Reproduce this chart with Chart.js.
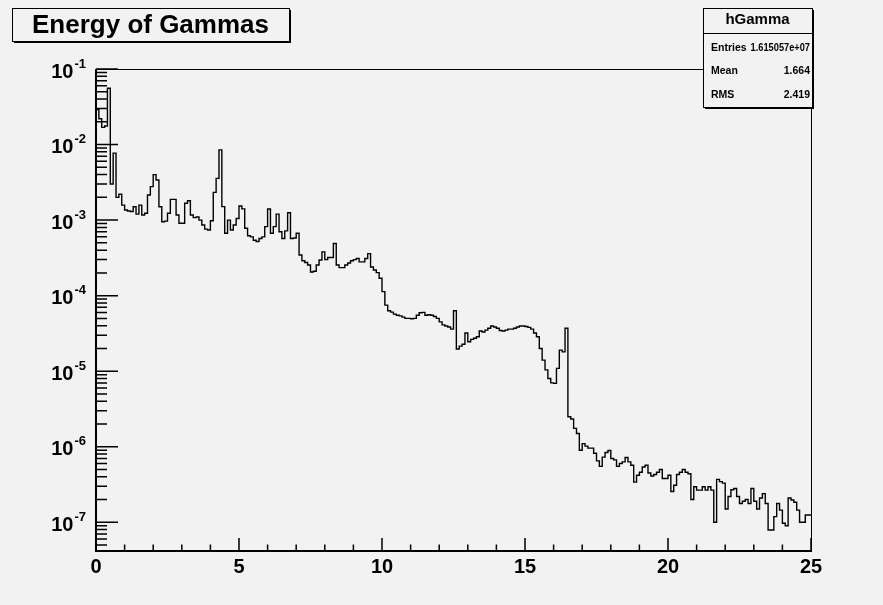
<!DOCTYPE html>
<html>
<head>
<meta charset="utf-8">
<script src="https://cdn.jsdelivr.net/npm/chart.js@4.4.1/dist/chart.umd.min.js"></script>
<style>
  html, body { margin: 0; padding: 0; background: #f2f2f2; }
  canvas { display: block; }
</style>
</head>
<body>
<div style="width:883px;height:605px;position:relative">
  <canvas id="c" width="883" height="605"></canvas>
</div>
<script>
// Histogram hGamma: 250 bins of 0.1 over [0, 25]
const X_MIN = 0, X_MAX = 25, BIN_WIDTH = 0.1;
const Y_MIN = 4.17e-8, Y_MAX = 0.1;

// bin contents, 0 - 5
const bins0to5 = [
  0.041, 0.029, 0.022, 0.0169, 0.0176, 0.0556, 0.0030, 0.0077, 0.0020, 0.0022,
  0.00158, 0.00136, 0.00132, 0.0013, 0.0015, 0.0012, 0.00158, 0.00117, 0.00123, 0.00215,
  0.00277, 0.0040, 0.0034, 0.0015, 0.00095, 0.00097, 0.00123, 0.00188, 0.00188, 0.00117,
  0.00091, 0.00091, 0.00167, 0.0018, 0.00117, 0.00108, 0.0011, 0.0010, 0.00086, 0.00076,
  0.00074, 0.00098, 0.00233, 0.00357, 0.0085, 0.00151, 0.00067, 0.0010, 0.00074, 0.00086
];
// bin contents, 5 - 10
const bins5to10 = [
  0.00105, 0.00154, 0.00141, 0.00078, 0.00062, 0.0006, 0.00054, 0.00052, 0.00057, 0.0006,
  0.00082, 0.0014, 0.00067, 0.00082, 0.0012, 0.0007, 0.00057, 0.00072, 0.00125, 0.00057,
  0.00058, 0.00067, 0.000345, 0.00029, 0.000275, 0.000255, 0.000206, 0.00021, 0.000255, 0.000296,
  0.00038, 0.0003, 0.00032, 0.00032, 0.00049, 0.000255, 0.000235, 0.000235, 0.000255, 0.00027,
  0.00029, 0.0003, 0.00031, 0.00028, 0.00028, 0.00031, 0.00036, 0.00024, 0.000219, 0.000202
];
// bin contents, 10 - 15
const bins10to15 = [
  0.00017, 0.000113, 7.5e-5, 6.3e-5, 6.05e-5, 5.7e-5, 5.5e-5, 5.4e-5, 5.2e-5, 5.0e-5,
  5.0e-5, 4.95e-5, 5.0e-5, 5.5e-5, 5.95e-5, 6.0e-5, 5.5e-5, 5.6e-5, 5.5e-5, 5.3e-5,
  5.0e-5, 4.5e-5, 4.1e-5, 3.97e-5, 3.85e-5, 3.6e-5, 6.3e-5, 1.97e-5, 2.15e-5, 2.27e-5,
  3.2e-5, 2.45e-5, 2.64e-5, 2.73e-5, 2.86e-5, 3.4e-5, 3.3e-5, 3.5e-5, 3.7e-5, 3.97e-5,
  3.85e-5, 3.7e-5, 3.45e-5, 3.4e-5, 3.5e-5, 3.6e-5, 3.6e-5, 3.7e-5, 3.85e-5, 3.97e-5
];
// bin contents, 15 - 20
const bins15to20 = [
  3.97e-5, 3.9e-5, 3.8e-5, 3.6e-5, 3.2e-5, 2.86e-5, 2.0e-5, 1.4e-5, 1.04e-5, 8.0e-6,
  7.0e-6, 6.9e-6, 1.09e-5, 1.9e-5, 1.8e-5, 3.7e-5, 2.5e-6, 2.33e-6, 1.75e-6, 1.5e-6,
  9e-7, 1.1e-6, 1.02e-6, 9.6e-7, 9.6e-7, 8.2e-7, 6.5e-7, 5.5e-7, 7.3e-7, 8.4e-7,
  8.9e-7, 7.0e-7, 6.7e-7, 5.5e-7, 6.0e-7, 6.3e-7, 7.2e-7, 6.3e-7, 5.7e-7, 3.4e-7,
  4.2e-7, 4.6e-7, 5.4e-7, 5.7e-7, 4.5e-7, 4.1e-7, 4.3e-7, 4.6e-7, 5.0e-7, 3.8e-7
];
// bin contents, 20 - 25
const bins20to25 = [
  3.8e-7, 4.2e-7, 2.56e-7, 3.1e-7, 4.3e-7, 4.6e-7, 5.0e-7, 4.6e-7, 4.4e-7, 2.0e-7,
  2.95e-7, 2.67e-7, 2.67e-7, 2.95e-7, 2.67e-7, 2.95e-7, 2.67e-7, 1.0e-7, 3.7e-7, 3.45e-7,
  3.3e-7, 1.5e-7, 2.2e-7, 2.7e-7, 2.8e-7, 2.2e-7, 1.77e-7, 1.9e-7, 2.0e-7, 1.77e-7,
  2.8e-7, 1.9e-7, 1.5e-7, 2.1e-7, 2.4e-7, 1.77e-7, 7.9e-8, 7.9e-8, 1.19e-7, 1.77e-7,
  1.45e-7, 9.7e-8, 9.0e-8, 2.1e-7, 1.97e-7, 1.84e-7, 1.45e-7, 1.0e-7, 1.0e-7, 1.25e-7
];

const xMajorTicks = [0, 5, 10, 15, 20, 25];
const xTickLabels = ['0', '5', '10', '15', '20', '25'];
const yDecades = [-1, -2, -3, -4, -5, -6, -7];
const histTitle = 'Energy of Gammas';
const statsName = 'hGamma';
const statsLabels = ['Entries', 'Mean', 'RMS'];
const statsValues = ['1.615057e+07', '1.664', '2.419'];

const BG = '#f2f2f2';
const FONT = '"Liberation Sans", Arial, Helvetica, sans-serif';

const contents = [].concat(bins0to5, bins5to10, bins10to15, bins15to20, bins20to25);
// step line: one point per lower bin edge, plus the closing upper edge
const points = contents.map((v, i) => ({ x: +(X_MIN + i * BIN_WIDTH).toFixed(2), y: v }));
points.push({ x: X_MAX, y: contents[contents.length - 1] });

const rootStyle = {
  id: 'rootStyle',
  beforeDraw(chart) {
    const ctx = chart.ctx;
    ctx.save();
    ctx.fillStyle = BG;
    ctx.fillRect(0, 0, chart.width, chart.height);
    ctx.restore();
  },
  afterDraw(chart) {
    const ctx = chart.ctx;
    const a = chart.chartArea;
    const xs = chart.scales.x, ys = chart.scales.y;
    ctx.save();
    ctx.strokeStyle = '#000';
    ctx.fillStyle = '#000';

    // frame
    ctx.lineWidth = 1;
    ctx.strokeRect(Math.round(a.left) + 0.5, Math.round(a.top) + 0.5,
                   Math.round(a.right - a.left), Math.round(a.bottom - a.top));
    // axis lines
    ctx.lineWidth = 2;
    ctx.beginPath();
    ctx.moveTo(a.left, a.top); ctx.lineTo(a.left, a.bottom + 1);
    ctx.moveTo(a.left - 1, a.bottom); ctx.lineTo(a.right, a.bottom);
    ctx.stroke();

    // x ticks (inside, pointing up)
    ctx.lineWidth = 1.5;
    ctx.beginPath();
    for (let v = X_MIN; v <= X_MAX; v += 1) {
      const px = xs.getPixelForValue(v);
      const len = (v % 5 === 0) ? 13 : 6.5;
      ctx.moveTo(px, a.bottom); ctx.lineTo(px, a.bottom - len);
    }
    ctx.stroke();
    // x labels
    ctx.font = 'bold 20px ' + FONT;
    ctx.textAlign = 'center';
    ctx.textBaseline = 'middle';
    xMajorTicks.forEach((v, i) => {
      ctx.fillText(xTickLabels[i], xs.getPixelForValue(v), a.bottom + 16);
    });

    // y ticks (inside, pointing right)
    ctx.lineWidth = 1.5;
    ctx.beginPath();
    for (let d = -8; d <= -1; d++) {
      for (let k = 1; k <= 9; k++) {
        const val = k * Math.pow(10, d);
        if (val < Y_MIN * 0.999 || val > Y_MAX * 1.001) continue;
        const py = ys.getPixelForValue(val);
        const len = (k === 1) ? 22 : 11;
        ctx.moveTo(a.left, py); ctx.lineTo(a.left + len, py);
      }
    }
    ctx.stroke();
    // y labels 10^n
    yDecades.forEach(d => {
      const py = ys.getPixelForValue(Math.pow(10, d));
      const sup = String(d);
      ctx.textAlign = 'left';
      ctx.textBaseline = 'middle';
      ctx.font = 'bold 13px ' + FONT;
      const sw = ctx.measureText(sup).width;
      ctx.font = 'bold 20px ' + FONT;
      const bw = ctx.measureText('10').width;
      const right = 86;
      ctx.fillText('10', right - sw - bw - 1, py + 3);
      ctx.font = 'bold 13px ' + FONT;
      ctx.fillText(sup, right - sw, py - 5);
    });

    // title box
    const tb = { l: 12, t: 8, r: 289, b: 41 };
    ctx.fillStyle = '#000';
    ctx.fillRect(tb.l + 2, tb.t + 2, tb.r - tb.l, tb.b - tb.t);
    ctx.fillStyle = BG;
    ctx.fillRect(tb.l, tb.t, tb.r - tb.l, tb.b - tb.t);
    ctx.lineWidth = 1;
    ctx.strokeStyle = '#000';
    ctx.strokeRect(tb.l + 0.5, tb.t + 0.5, tb.r - tb.l, tb.b - tb.t);
    ctx.fillStyle = '#000';
    ctx.font = 'bold 26px ' + FONT;
    ctx.textAlign = 'center';
    ctx.textBaseline = 'middle';
    ctx.fillText(histTitle, (tb.l + tb.r) / 2, (tb.t + tb.b) / 2 + 1);

    // statistics box
    const sb = { l: 703, t: 8, r: 812, b: 107 };
    ctx.fillStyle = '#000';
    ctx.fillRect(sb.l + 2, sb.t + 2, sb.r - sb.l, sb.b - sb.t);
    ctx.fillStyle = BG;
    ctx.fillRect(sb.l, sb.t, sb.r - sb.l, sb.b - sb.t);
    ctx.strokeRect(sb.l + 0.5, sb.t + 0.5, sb.r - sb.l, sb.b - sb.t);
    ctx.beginPath();
    ctx.moveTo(sb.l, 33.5); ctx.lineTo(sb.r, 33.5);
    ctx.stroke();
    ctx.fillStyle = '#000';
    ctx.font = 'bold 15px ' + FONT;
    ctx.textAlign = 'center';
    ctx.fillText(statsName, (sb.l + sb.r) / 2, 20);
    ctx.font = 'bold 10.5px ' + FONT;
    const rowY = [48, 71, 95];
    statsLabels.forEach((lab, i) => {
      ctx.textAlign = 'left';
      ctx.fillText(lab, sb.l + 8, rowY[i]);
      const labEnd = sb.l + 8 + ctx.measureText(lab).width;
      ctx.textAlign = 'right';
      ctx.fillText(statsValues[i], sb.r - 2, rowY[i], sb.r - 2 - labEnd - 4);
    });
    ctx.restore();
  }
};

new Chart(document.getElementById('c'), {
  type: 'line',
  data: {
    datasets: [{
      label: statsName,
      data: points,
      stepped: 'after',
      borderColor: '#000',
      borderWidth: 1.4,
      pointRadius: 0,
      fill: false,
      tension: 0
    }]
  },
  options: {
    responsive: false,
    animation: false,
    devicePixelRatio: 1,
    layout: { padding: { left: 96, right: 72, top: 69, bottom: 54 } },
    plugins: { legend: { display: false }, tooltip: { enabled: false } },
    scales: {
      x: { type: 'linear', min: X_MIN, max: X_MAX, display: false },
      y: { type: 'logarithmic', min: Y_MIN, max: Y_MAX, display: false }
    }
  },
  plugins: [rootStyle]
});
</script>
</body>
</html>
